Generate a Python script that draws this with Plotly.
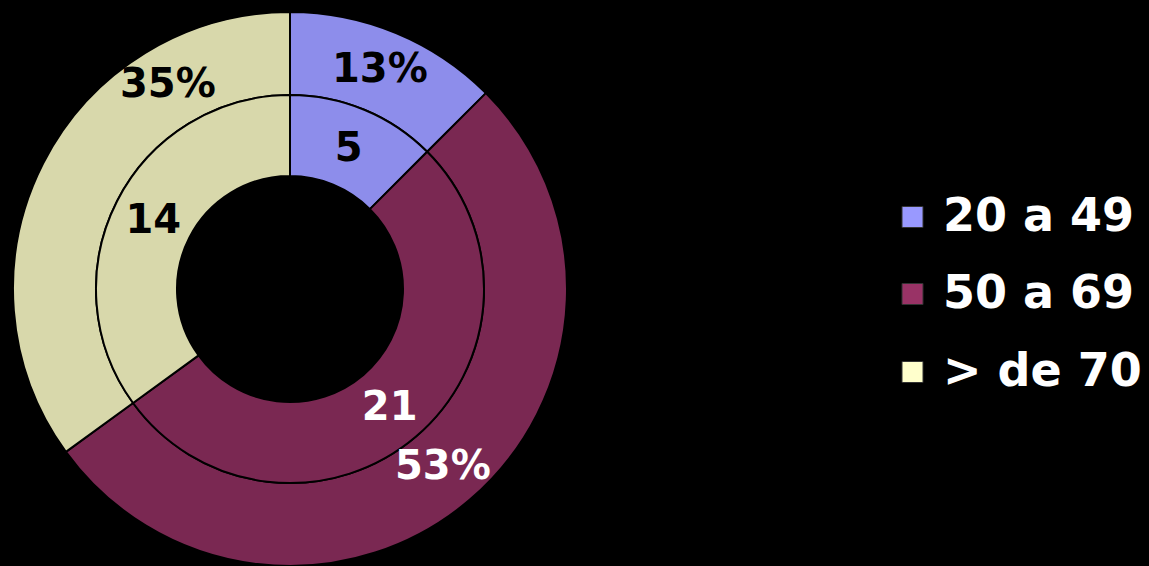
import math
import plotly.graph_objects as go

# data
groups = ["20 a 49", "50 a 69", "> de 70"]
counts = [5, 21, 14]

# colours
base_colors = ["#9999FF", "#993366", "#FFFFCC"]
shaded_colors = ["#8d8deb", "#7a2852", "#d8d8ab"]
label_colors = ["black", "white", "black"]

total = sum(counts)
pcts = [f"{int(c / total * 100 + 0.5)}%" for c in counts]

W, H = 1149, 566
cx, cy = 290, 277          # centre in px (from left, from bottom)
r_outer, r_mid, r_hole = 277, 194, 113


def dom(r):
    return dict(x=[(cx - r) / W, (cx + r) / W], y=[(cy - r) / H, (cy + r) / H])


font = "DejaVu Sans, Verdana, sans-serif"
label_size = 40

fig = go.Figure()

# outer ring (labels added as annotations below so they are not shrunk)
fig.add_trace(
    go.Pie(
        values=counts,
        labels=groups,
        textinfo="none",
        marker=dict(colors=shaded_colors, line=dict(color="black", width=2)),
        hole=r_mid / r_outer,
        domain=dom(r_outer),
        sort=False,
        direction="clockwise",
        rotation=0,
        showlegend=False,
        hoverinfo="label+percent",
    )
)

# inner ring: counts
fig.add_trace(
    go.Pie(
        values=counts,
        labels=groups,
        text=[str(c) for c in counts],
        textinfo="text",
        textposition="inside",
        insidetextorientation="horizontal",
        textfont=dict(family=font, size=label_size, color=label_colors, weight="bold"),
        marker=dict(colors=shaded_colors, line=dict(color="black", width=2)),
        hole=r_hole / r_mid,
        domain=dom(r_mid),
        sort=False,
        direction="clockwise",
        rotation=0,
        showlegend=False,
        hoverinfo="label+value",
    )
)

# percentage labels on the outer ring, at the middle of each slice
r_lab = (r_mid + r_outer) / 2
cum = 0
for i, c in enumerate(counts):
    ang = 2 * math.pi * (cum + c / 2) / total
    cum += c
    x = cx + r_lab * math.sin(ang)
    y = cy + r_lab * math.cos(ang)
    if i == len(counts) - 1:
        # this label was dragged towards the top in the original
        x, y = 168, H - 86
    fig.add_annotation(
        x=x / W, y=y / H, xref="paper", yref="paper",
        xanchor="center", yanchor="middle", yshift=3,
        text=pcts[i], showarrow=False,
        font=dict(family=font, size=label_size, color=label_colors[i], weight="bold"),
    )

# legend drawn by hand (bigger swatches than plotly allows)
leg_y = [217, 294, 372]
for i, g in enumerate(groups):
    yc = 1 - leg_y[i] / H
    fig.add_shape(
        type="rect", xref="paper", yref="paper",
        x0=902 / W, x1=923 / W, y0=yc - 10.5 / H, y1=yc + 10.5 / H,
        fillcolor=base_colors[i], line=dict(color="#333", width=1),
    )
    fig.add_annotation(
        x=941 / W, y=yc + 2 / H, xref="paper", yref="paper",
        xanchor="left", yanchor="middle",
        text=g, showarrow=False,
        font=dict(family=font, size=46, color="white", weight="bold"),
    )

fig.update_layout(
    width=W,
    height=H,
    margin=dict(l=0, r=0, t=0, b=0),
    paper_bgcolor="black",
    plot_bgcolor="black",
)

fig.write_html(
    "out.html",
    config={"displayModeBar": False},
    post_script="document.body.style.margin='0';document.body.style.background='black';",
)
